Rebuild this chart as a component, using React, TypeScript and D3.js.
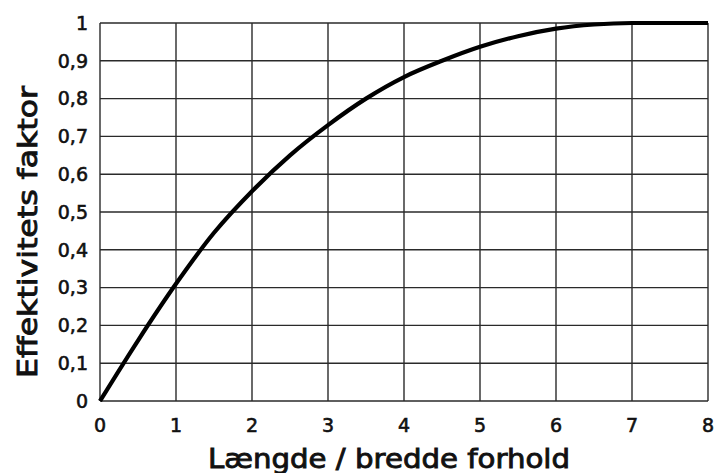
import React from "react";
import * as d3 from "d3";

const ratio = [0, 0.5, 1, 1.5, 2, 2.5, 3, 3.5, 4, 4.5, 5, 5.5, 6, 6.5, 7, 7.5, 8];
const factor = [0, 0.16, 0.31, 0.445, 0.555, 0.65, 0.73, 0.8, 0.857, 0.9, 0.937, 0.965, 0.985, 0.996, 1, 1, 1];
const xTicks = [0, 1, 2, 3, 4, 5, 6, 7, 8];
const yTicks = [0, 0.1, 0.2, 0.3, 0.4, 0.5, 0.6, 0.7, 0.8, 0.9, 1];
const xTitle = "Længde / bredde forhold";
const yTitle = "Effektivitets faktor";

export default function App() {
  const W = 716, H = 473;
  const x = d3.scaleLinear().domain([0, 8]).range([100, 708]);
  const y = d3.scaleLinear().domain([0, 1]).range([401, 23]);
  const pts: [number, number][] = ratio.map((r, i) => [r, factor[i]]);
  const line = d3.line<[number, number]>().x(d => x(d[0])).y(d => y(d[1])).curve(d3.curveMonotoneX);
  const font = "'DejaVu Sans', sans-serif";
  const fmt = (v: number) => (v === 0 || v === 1 ? String(v) : v.toFixed(1).replace(".", ","));
  return (
    <svg width={W} height={H} style={{ position: "absolute", left: 0, top: 0, background: "#fff" }}>
      <rect x={0} y={0} width={W} height={H} fill="#fff" />
      {xTicks.map(t => (
        <line key={"gx" + t} x1={x(t)} x2={x(t)} y1={y(0)} y2={y(1)} stroke="#2a2a2a" strokeWidth={1.4} />
      ))}
      {yTicks.map(t => (
        <line key={"gy" + t} x1={x(0)} x2={x(8)} y1={y(t)} y2={y(t)} stroke="#2a2a2a" strokeWidth={1.4} />
      ))}
      <path d={line(pts) || ""} fill="none" stroke="#000" strokeWidth={4.2} strokeLinejoin="round" />
      {yTicks.map(t => (
        <text key={"ty" + t} x={88} y={y(t)} dy="0.36em" textAnchor="end" fontFamily={font} fontSize={19} fill="#111" stroke="#111" strokeWidth={0.6}>
          {fmt(t)}
        </text>
      ))}
      {xTicks.map(t => (
        <text key={"tx" + t} x={x(t)} y={432} textAnchor="middle" fontFamily={font} fontSize={19} fill="#111" stroke="#111" strokeWidth={0.6}>
          {String(t)}
        </text>
      ))}
      <text x={389} y={468} textAnchor="middle" fontFamily={font} fontSize={27} fill="#111" stroke="#111" strokeWidth={0.9} textLength={362} lengthAdjust="spacingAndGlyphs">
        {xTitle}
      </text>
      <text transform={`translate(37,232) rotate(-90)`} textAnchor="middle" fontFamily={font} fontSize={27} fill="#111" stroke="#111" strokeWidth={0.9} textLength={292} lengthAdjust="spacingAndGlyphs">
        {yTitle}
      </text>
    </svg>
  );
}
